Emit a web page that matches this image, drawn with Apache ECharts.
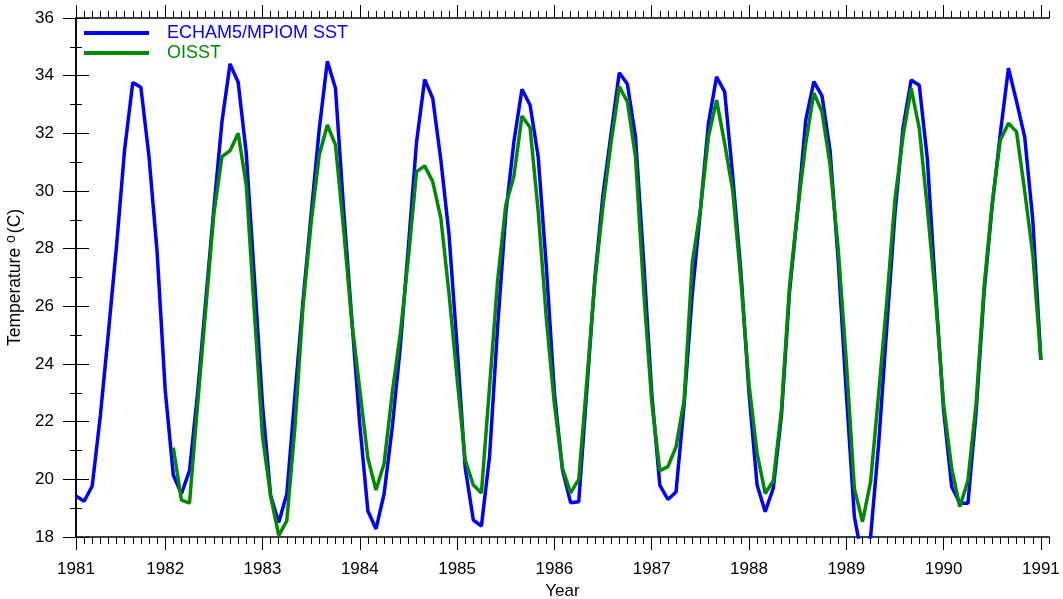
<!DOCTYPE html>
<html>
<head>
<meta charset="utf-8">
<title>SST</title>
<script src="https://cdn.jsdelivr.net/npm/echarts@6/dist/echarts.min.js"></script>
<style>
  html, body { margin: 0; padding: 0; background: #fff; }
  #chart { width: 1063px; height: 599px; }
</style>
</head>
<body>
<div id="chart"></div>
<script>
// x is a month index, 0 = first month of 1981, 119 = last month of 1990
const yearLabels = ['1981', '1982', '1983', '1984', '1985', '1986', '1987', '1988', '1989', '1990', '1991']
const yearTicks = [0, 11, 23, 35, 47, 59, 71, 83, 95, 107, 119]

const echamSst = [
  19.42, 19.24, 19.77, 22.2, 25.1, 28.1, 31.45, 33.76, 33.6, 31.2, 27.9, 23.1,
  20.15, 19.5, 20.3, 23.0, 26.2, 29.4, 32.4, 34.41, 33.77, 31.3, 27.0, 22.6,
  19.45, 18.5, 19.49, 22.9, 26.2, 29.2, 32.15, 34.5, 33.56, 29.4, 25.6, 21.9,
  18.9, 18.28, 19.5, 21.8, 24.6, 28.1, 31.7, 33.87, 33.21, 31.07, 28.5, 24.6,
  20.4, 18.59, 18.38, 20.78, 25.3, 29.2, 31.7, 33.53, 32.98, 31.19, 27.4, 23.0,
  20.32, 19.19, 19.22, 23.1, 27.0, 29.9, 32.0, 34.1, 33.71, 31.88, 27.6, 23.0,
  19.8, 19.3, 19.56, 22.6, 26.4, 29.3, 32.35, 33.96, 33.44, 30.5, 27.2, 23.0,
  19.8, 18.88, 19.7, 22.2, 26.5, 29.3, 32.46, 33.79, 33.3, 31.4, 27.6, 23.0,
  18.7, 17.2, 18.02, 21.26, 25.3, 29.2, 32.2, 33.85, 33.67, 31.1, 26.6, 22.4,
  19.74, 19.17, 19.17, 22.3, 26.5, 29.5, 32.0, 34.26, 33.1, 31.88, 29.0, 24.14
]

// OISST starts one year later
const oisst = [
  null, null, null, null, null, null, null, null, null, null, null, null,
  21.1, 19.28, 19.18, 22.6, 25.9, 29.2, 31.19, 31.4, 32.0, 30.2, 25.8, 21.5,
  19.42, 18.06, 18.56, 21.8, 26.0, 28.9, 31.25, 32.29, 31.6, 28.7, 25.5, 23.1,
  20.73, 19.63, 20.55, 23.0, 25.06, 27.7, 30.67, 30.87, 30.32, 29.05, 26.45, 23.5,
  20.67, 19.8, 19.53, 23.2, 26.9, 29.5, 30.5, 32.6, 32.2, 29.3, 25.6, 22.6,
  20.38, 19.53, 20.0, 23.4, 26.9, 29.5, 31.7, 33.62, 33.1, 31.19, 26.6, 22.7,
  20.3, 20.44, 21.12, 22.75, 27.5, 29.34, 31.88, 33.15, 31.65, 30.0, 26.9, 23.3,
  20.9, 19.51, 19.95, 22.4, 26.7, 29.34, 31.65, 33.4, 32.75, 30.9, 28.0, 24.1,
  19.68, 18.53, 19.92, 23.0, 26.2, 29.7, 31.9, 33.56, 32.17, 29.4, 26.3, 22.6,
  20.38, 19.05, 19.95, 22.6, 26.7, 29.6, 31.77, 32.35, 32.05, 30.0, 27.8, 24.14
]

const seriesNames = ['ECHAM5/MPIOM SST', 'OISST']
const seriesColors = ['#0000ff', '#008a00']

const toPoints = (arr) => arr.map((v, i) => [i, v]).filter((p) => p[1] != null)

const font = 'Liberation Sans, Arial, Helvetica, sans-serif'
const black = '#000'

const monthAxis = (position, withLabels) => ({
  type: 'value',
  position: position,
  min: 0,
  max: 120,
  interval: 1,
  axisLine: { show: true, lineStyle: { color: black, width: 1.5 } },
  axisTick: { show: true, inside: false, length: 7, lineStyle: { color: black, width: 1 } },
  axisLabel: withLabels
    ? {
        customValues: yearTicks,
        formatter: (v) => yearLabels[yearTicks.indexOf(v)],
        color: black,
        fontSize: 17,
        fontFamily: font,
        margin: 24
      }
    : { show: false },
  splitLine: { show: false }
})

// longer ticks on the year marks
const yearTickAxis = (position) => ({
  type: 'value',
  position: position,
  min: 0,
  max: 120,
  axisLine: { show: false },
  axisTick: { show: true, customValues: yearTicks, length: 13, lineStyle: { color: black, width: 1 } },
  axisLabel: { show: false },
  splitLine: { show: false }
})

const tempAxis = (position, withLabels) => ({
  type: 'value',
  position: position,
  min: 18,
  max: 36,
  interval: 2,
  axisLine: { show: true, lineStyle: { color: black, width: 1.5 } },
  axisTick: { show: true, inside: false, length: 13, lineStyle: { color: black, width: 1 } },
  minorTick: { show: true, splitNumber: 2, length: 6, lineStyle: { color: black, width: 1 } },
  axisLabel: withLabels
    ? { color: black, fontSize: 17, fontFamily: font, margin: 22 }
    : { show: false },
  splitLine: { show: false }
})

const bottomAxis = monthAxis('bottom', true)
bottomAxis.name = 'Year'
bottomAxis.nameLocation = 'middle'
bottomAxis.nameGap = 45
bottomAxis.nameTextStyle = { color: black, fontSize: 17, fontFamily: font }

const leftAxis = tempAxis('left', true)
leftAxis.name = '{t|Temperature }{s|o}{t|(C)}'
leftAxis.nameLocation = 'middle'
leftAxis.nameGap = 48
leftAxis.nameTextStyle = {
  color: black,
  rich: {
    t: { fontSize: 17.5, fontFamily: font, color: black, lineHeight: 22 },
    s: { fontSize: 14, fontFamily: font, color: black, lineHeight: 22, verticalAlign: 'top', padding: [0, 2, 0, 0] }
  }
}

const chart = echarts.init(document.getElementById('chart'))

const option = {
  animation: false,
  backgroundColor: '#fff',
  grid: { left: 76, right: 14, top: 18, bottom: 62, outerBoundsMode: 'none' },
  legend: {
    orient: 'vertical',
    left: 84,
    top: 24,
    padding: 0,
    icon: 'rect',
    itemWidth: 65,
    itemHeight: 4,
    itemGap: 2,
    selectedMode: false,
    textStyle: { fontSize: 18, fontFamily: font, padding: [0, 0, 0, 13] },
    data: seriesNames.map((n, i) => ({ name: n, textStyle: { color: seriesColors[i] } }))
  },
  xAxis: [bottomAxis, yearTickAxis('bottom'), monthAxis('top', false), yearTickAxis('top')],
  yAxis: [leftAxis, tempAxis('right', false)],
  series: [
    {
      name: seriesNames[0],
      type: 'line',
      xAxisIndex: 0,
      yAxisIndex: 0,
      data: toPoints(echamSst),
      showSymbol: false,
      color: seriesColors[0],
      lineStyle: { width: 3.5, color: seriesColors[0] }
    },
    {
      name: seriesNames[1],
      type: 'line',
      xAxisIndex: 0,
      yAxisIndex: 0,
      data: toPoints(oisst),
      showSymbol: false,
      color: seriesColors[1],
      lineStyle: { width: 3.5, color: seriesColors[1] }
    }
  ]
}

chart.setOption(option)
</script>
</body>
</html>
